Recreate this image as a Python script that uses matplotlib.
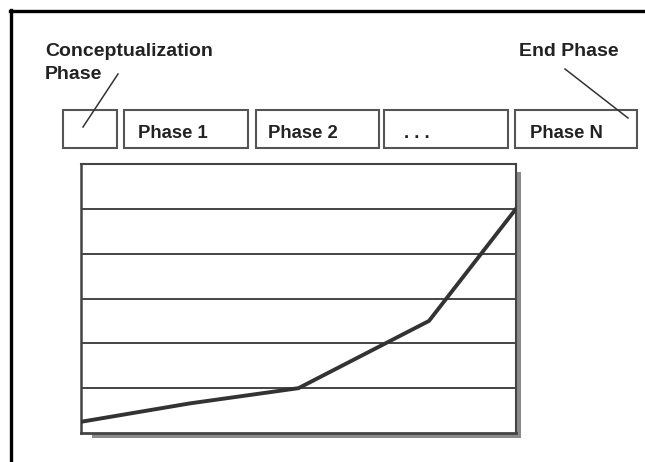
import matplotlib.pyplot as plt
from matplotlib.lines import Line2D
from matplotlib.patches import Rectangle

# data
phase_labels = ["", "Phase 1", "Phase 2", ". . .", "Phase N"]
x_vals = [0, 2.5, 5, 8, 10]
y_vals = [0.25, 0.66, 1.0, 2.5, 5.0]
grid_levels = [1, 2, 3, 4, 5]

W, H = 645, 462
plt.rcParams['font.family'] = ['Liberation Sans', 'DejaVu Sans']


def fx(x):
    return x / W


def fy(y):
    return 1 - y / H


fig = plt.figure(figsize=(W / 100, H / 100), dpi=100)
fig.patch.set_facecolor("white")

# outer frame: top and left only
fig.add_artist(Line2D([fx(10), fx(645)], [fy(11), fy(11)], color="black", lw=2.4))
fig.add_artist(Line2D([fx(11), fx(11)], [fy(10), fy(462)], color="black", lw=2.4))

# phase boxes across the top
box_x = [(63, 117), (124, 248), (256, 379), (384, 508), (515, 637)]
text_pad = [0, 14, 12, 20, 15]
for (x0, x1), lab, pad in zip(box_x, phase_labels, text_pad):
    fig.add_artist(Rectangle((fx(x0), fy(148)), fx(x1) - fx(x0), fy(110) - fy(148),
                             facecolor="white", edgecolor="#555555", lw=1.5))
    if lab:
        fig.text(fx(x0 + pad), fy(138), lab, fontsize=13.3, fontweight="bold",
                 color="#222222", va="baseline", ha="left")

# callouts
fig.text(fx(45), fy(56), "Conceptualization", fontsize=14, fontweight="bold",
         color="#222222", va="baseline")
fig.text(fx(45), fy(79), "Phase", fontsize=14, fontweight="bold",
         color="#222222", va="baseline")
fig.text(fx(519), fy(56), "End Phase", fontsize=14, fontweight="bold",
         color="#222222", va="baseline")
fig.add_artist(Line2D([fx(118), fx(83)], [fy(74), fy(127)], color="#333333", lw=1.1))
fig.add_artist(Line2D([fx(565), fx(628)], [fy(69), fy(118)], color="#333333", lw=1.1))

# shadow behind the chart
fig.add_artist(Rectangle((fx(92), fy(438)), fx(521) - fx(92), fy(172) - fy(438),
                         facecolor="#8a8a8a", edgecolor="none", zorder=0))

ax = fig.add_axes([fx(81), fy(433), fx(516) - fx(81), fy(164) - fy(433)], zorder=1)
ax.set_facecolor("white")
ax.set_xlim(0, 10)
ax.set_ylim(0, 6)
for lvl in grid_levels:
    ax.axhline(lvl, color="#444444", lw=1.4)
ax.plot(x_vals, y_vals, color="#333333", lw=2.8, solid_joinstyle="round", zorder=3)
ax.set_xticks([])
ax.set_yticks([])
for s in ax.spines.values():
    s.set_color("#444444")
    s.set_linewidth(1.5)
ax.spines["left"].set_linewidth(1.8)
ax.spines["bottom"].set_linewidth(2)

fig.savefig("out.png", dpi=100)
